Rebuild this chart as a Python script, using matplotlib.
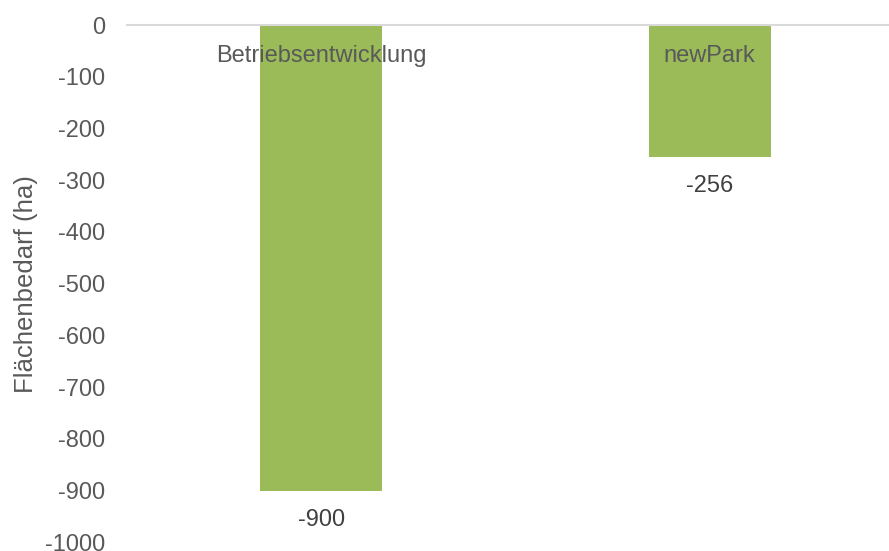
import matplotlib
matplotlib.use("Agg")
import matplotlib.pyplot as plt

# Flächenbedarf je Szenario
categories = ["Betriebsentwicklung", "newPark"]
values = [-900, -256]
y_ticks = list(range(-1000, 1, 100))

plt.rcParams["font.family"] = ["Liberation Sans", "DejaVu Sans"]

bar_color = "#9BBB59"
text_color = "#595959"
value_color = "#404040"

fig = plt.figure(figsize=(8.89, 5.51), dpi=100)
# Plot area extends slightly past the right edge of the canvas
ax = fig.add_axes([0.1429, 0.0156, 0.874, 0.939])

x = range(len(categories))
bars = ax.bar(x, values, width=0.314, color=bar_color, zorder=2)

ax.set_xlim(-0.5, len(categories) - 0.5)
ax.set_ylim(-1000, 0)
ax.set_yticks(y_ticks)
ax.set_yticklabels([str(v) for v in y_ticks])
ax.set_xticks([])

for side in ["left", "right", "bottom"]:
    ax.spines[side].set_visible(False)
ax.spines["top"].set_color("#D9D9D9")
ax.spines["top"].set_linewidth(1.5)
ax.spines["top"].set_zorder(3)

ax.tick_params(axis="y", length=0, pad=16, labelsize=17, labelcolor=text_color)
ax.set_ylabel("Flächenbedarf (ha)", fontsize=18.5, color=text_color, labelpad=5)

for xi, cat, val in zip(x, categories, values):
    ax.annotate(cat, xy=(xi, 0), xytext=(0, -31), textcoords="offset pixels",
                ha="center", va="center", fontsize=17, color=text_color, zorder=4)
    ax.annotate(str(val), xy=(xi, val), xytext=(0, -29), textcoords="offset pixels",
                ha="center", va="center", fontsize=17, color=value_color, zorder=4)

fig.savefig("out.png", dpi=100)
